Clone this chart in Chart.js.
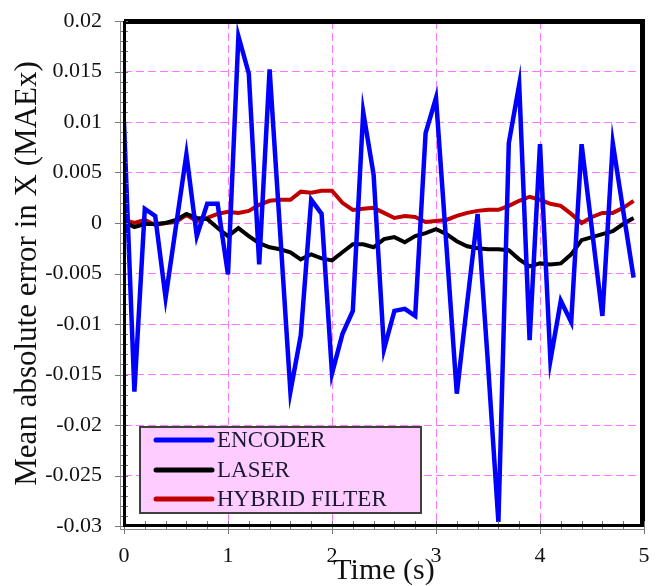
<!DOCTYPE html>
<html>
<head>
<meta charset="utf-8">
<script src="https://cdn.jsdelivr.net/npm/chart.js@4.4.1/dist/chart.umd.min.js"></script>
<style>
  body { margin: 0; background: #fff; }
  #caixa { width: 658px; height: 586px; }
</style>
</head>
<body>
<div id="caixa"><canvas id="grafico"></canvas></div>
<script>
// tempo (s)
const tempos = [0, 0.1, 0.2, 0.3, 0.4, 0.5, 0.6, 0.7, 0.8, 0.9,
    1.0, 1.1, 1.2, 1.3, 1.4, 1.5, 1.6, 1.7, 1.8, 1.9,
    2.0, 2.1, 2.2, 2.3, 2.4, 2.5, 2.6, 2.7, 2.8, 2.9,
    3.0, 3.1, 3.2, 3.3, 3.4, 3.5, 3.6, 3.7, 3.8, 3.9,
    4.0, 4.1, 4.2, 4.3, 4.4, 4.5, 4.6, 4.7, 4.8, 4.9];

const encoder = [0.0099, -0.0167, 0.0014, 0.0007, -0.0074, -0.0003, 0.0068, -0.0013, 0.0019, 0.0019,
    -0.0051, 0.0185, 0.0148, -0.0041, 0.0152, -0.0007, -0.0167, -0.0111, 0.0023, 0.0009,
    -0.0149, -0.0110, -0.0087, 0.0110, 0.0048, -0.0125, -0.0087, -0.0085, -0.0092, 0.0089,
    0.0124, -0.0022, -0.0169, -0.0079, 0.0009, -0.0140, -0.0296, 0.0079, 0.0137, -0.0116,
    0.0078, -0.0136, -0.0077, -0.0098, 0.0078, -0.0007, -0.0092, 0.0079, 0.0012, -0.0054];

const laser = [0.0001, -0.0004, -0.0001, -0.0001, 0.0000, 0.0003, 0.0009, 0.0005, 0.0004, -0.0005,
    -0.0013, -0.0005, -0.0013, -0.0020, -0.0024, -0.0026, -0.0029, -0.0036, -0.0031, -0.0035,
    -0.0037, -0.0029, -0.0021, -0.0021, -0.0024, -0.0016, -0.0014, -0.0019, -0.0013, -0.0010,
    -0.0006, -0.0011, -0.0018, -0.0023, -0.0025, -0.0026, -0.0026, -0.0027, -0.0036, -0.0043,
    -0.0040, -0.0041, -0.0040, -0.0031, -0.0017, -0.0014, -0.0011, -0.0008, -0.0001, 0.0005];

const hibrido = [0.0003, 0.0000, 0.0003, -0.0002, 0.0000, 0.0001, 0.0008, 0.0002, 0.0005, 0.0009,
    0.0011, 0.0010, 0.0012, 0.0018, 0.0022, 0.0023, 0.0023, 0.0031, 0.0030, 0.0032,
    0.0032, 0.0020, 0.0013, 0.0014, 0.0015, 0.0010, 0.0005, 0.0007, 0.0006, 0.0001,
    0.0002, 0.0003, 0.0007, 0.0010, 0.0012, 0.0013, 0.0013, 0.0017, 0.0022, 0.0026,
    0.0023, 0.0019, 0.0017, 0.0009, 0.0000, 0.0006, 0.0010, 0.0010, 0.0015, 0.0022];

const nomes = ['ENCODER', 'LASER', 'HYBRID FILTER'];
const limitesX = [0, 5];
const limitesY = [-0.03, 0.02];
const passoX = 1;
const passoY = 0.005;

const fonte = "'Liberation Serif', 'Times New Roman', serif";
const corGrade = '#ff77ff';

const pontos = (valores) => tempos.map((t, i) => ({ x: t, y: valores[i] }));

// eixos duplos com marcas menores + borda grossa
const eixos = {
    id: 'eixos',
    afterDatasetsDraw(chart) {
        const ctx = chart.ctx;
        const a = chart.chartArea;
        const sx = chart.scales.x;
        const sy = chart.scales.y;
        ctx.save();
        ctx.lineCap = 'butt';
        // borda superior e direita
        ctx.strokeStyle = '#000';
        ctx.lineWidth = 5;
        ctx.beginPath();
        ctx.moveTo(a.left, a.top + 0.5);
        ctx.lineTo(a.right - 1.5, a.top + 0.5);
        ctx.lineTo(a.right - 1.5, a.bottom);
        ctx.stroke();
        // marcas eixo y
        ctx.strokeStyle = '#777';
        ctx.lineWidth = 1;
        for (let i = 0; i <= 50; i++) {
            const v = limitesY[0] + i * 0.001;
            const y = Math.round(sy.getPixelForValue(v)) + 0.5;
            const maior = i % 5 == 0;
            ctx.beginPath();
            ctx.moveTo(a.left - (maior ? 9 : 3), y);
            ctx.lineTo(a.left + 4, y);
            ctx.stroke();
        }
        // marcas eixo x
        for (let i = 0; i <= 25; i++) {
            const v = limitesX[0] + i * 0.2;
            const x = Math.round(sx.getPixelForValue(v)) + 0.5;
            const maior = i % 5 == 0;
            ctx.beginPath();
            ctx.moveTo(x, a.bottom - 5);
            ctx.lineTo(x, a.bottom + (maior ? 8 : 3));
            ctx.stroke();
        }
        // linhas dos eixos
        ctx.strokeStyle = '#888';
        ctx.beginPath();
        ctx.moveTo(a.left - 3.5, a.top);
        ctx.lineTo(a.left - 3.5, a.bottom + 3.5);
        ctx.lineTo(a.right, a.bottom + 3.5);
        ctx.stroke();
        ctx.strokeStyle = '#000';
        ctx.lineWidth = 3;
        ctx.beginPath();
        ctx.moveTo(a.left + 0.5, a.top);
        ctx.lineTo(a.left + 0.5, a.bottom - 0.5);
        ctx.lineTo(a.right, a.bottom - 0.5);
        ctx.stroke();
        ctx.restore();
    }
};

// legenda dentro do grafico
const legenda = {
    id: 'legenda',
    afterDatasetsDraw(chart) {
        const ctx = chart.ctx;
        const a = chart.chartArea;
        const x0 = a.left + 16;
        const y0 = a.bottom - 99;
        ctx.save();
        ctx.fillStyle = '#ffccff';
        ctx.fillRect(x0, y0, 281, 86);
        ctx.strokeStyle = '#404040';
        ctx.lineWidth = 2;
        ctx.strokeRect(x0, y0, 281, 86);
        const linhas = [13, 43, 72];
        chart.data.datasets.forEach((d, i) => {
            const y = y0 + linhas[i];
            ctx.strokeStyle = d.borderColor;
            ctx.lineWidth = 5;
            ctx.lineCap = 'round';
            ctx.beginPath();
            ctx.moveTo(x0 + 16, y);
            ctx.lineTo(x0 + 72, y);
            ctx.stroke();
            ctx.fillStyle = '#1a1a33';
            ctx.font = `23px ${fonte}`;
            ctx.textBaseline = 'middle';
            ctx.textAlign = 'left';
            ctx.fillText(d.label, x0 + 77, y + 1);
        });
        ctx.restore();
    }
};

const ctx = document.getElementById('grafico').getContext('2d');
const chart = new Chart(ctx, {
    type: 'line',
    data: {
        datasets: [{
            label: nomes[0],
            data: pontos(encoder),
            borderColor: '#0000ff',
            borderWidth: 4.5
        }, {
            label: nomes[1],
            data: pontos(laser),
            borderColor: '#000000',
            borderWidth: 4
        }, {
            label: nomes[2],
            data: pontos(hibrido),
            borderColor: '#c00000',
            borderWidth: 4
        }]
    },
    options: {
        responsive: true,
        maintainAspectRatio: false,
        animation: false,
        layout: { padding: { top: 21, right: 14, left: 0, bottom: 0 } },
        elements: { point: { radius: 0 }, line: { tension: 0 } },
        plugins: {
            legend: { display: false },
            tooltip: { enabled: false }
        },
        scales: {
            x: {
                type: 'linear',
                min: limitesX[0],
                max: limitesX[1],
                afterFit: (s) => {
                    s.height = 60;
                    s.paddingLeft = 0;
                    s.paddingRight = 0;
                    s.paddingTop = 0;
                    s.paddingBottom = 0;
                },
                ticks: {
                    stepSize: passoX,
                    color: '#111',
                    padding: 17,
                    maxRotation: 0,
                    font: { family: fonte, size: 22 }
                },
                grid: { color: corGrade, lineWidth: 1, drawTicks: false },
                border: { display: false, dash: [8, 4] },
                title: {
                    display: true,
                    text: 'Time (s)',
                    color: '#111',
                    padding: { top: 0, bottom: 0 },
                    font: { family: fonte, size: 30, lineHeight: 1.0 }
                }
            },
            y: {
                min: limitesY[0],
                max: limitesY[1],
                afterFit: (s) => {
                    s.width = 124;
                    s.paddingLeft = 0;
                    s.paddingRight = 0;
                    s.paddingTop = 0;
                    s.paddingBottom = 0;
                },
                ticks: {
                    stepSize: passoY,
                    color: '#111',
                    padding: 22,
                    font: { family: fonte, size: 22 },
                    callback: (v) => parseFloat(v.toFixed(3)).toString()
                },
                grid: { color: corGrade, lineWidth: 1, drawTicks: false },
                border: { display: false, dash: [8, 4] },
                title: {
                    display: true,
                    text: 'Mean absolute error in X (MAEx)',
                    color: '#111',
                    padding: { top: 9, bottom: 0 },
                    font: { family: fonte, size: 31, lineHeight: 1.2 }
                }
            }
        }
    },
    plugins: [eixos, legenda]
});
</script>
</body>
</html>
